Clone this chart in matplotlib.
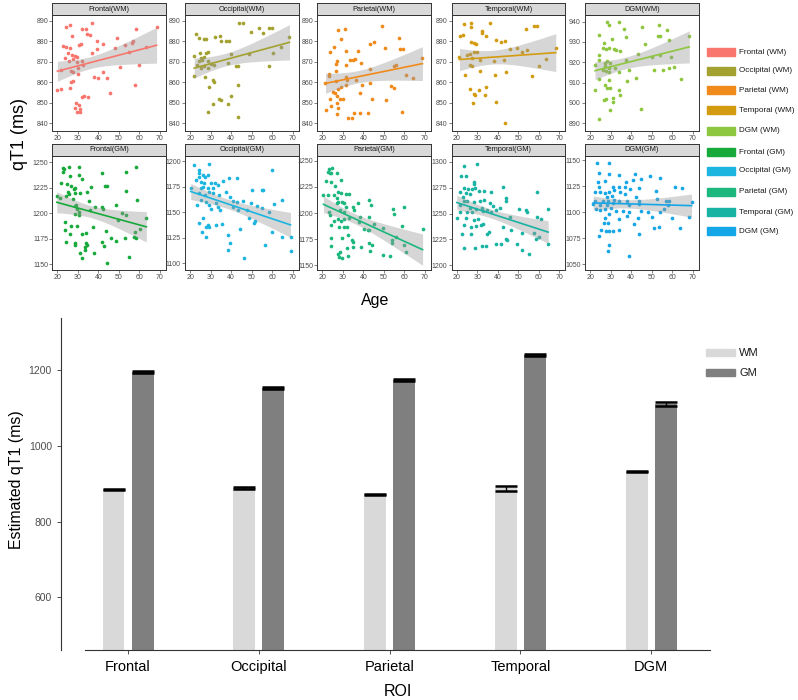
import numpy as np
import matplotlib
matplotlib.use('Agg')
import matplotlib.pyplot as plt
from matplotlib.patches import Rectangle

plt.rcParams['font.family'] = ['Liberation Sans', 'DejaVu Sans']

# ---------------- data: (age, qT1) pairs per region ----------------
frontal_wm = [(26.2, 888), (24.1, 887), (36.7, 888.7), (31.9, 885.8), (34.0, 886), (27.0, 882.7), (34.6, 883.5),
              (35.8, 883), (22.9, 877.7), (24.2, 877.4), (26.2, 876.6), (30.6, 878), (31.5, 878.7), (39.2, 880),
              (42.4, 878.5), (39.2, 876), (36.7, 874), (25.4, 874.2), (27.0, 873.4), (28.6, 872.6), (23.7, 871.8),
              (29.4, 872.3), (27.8, 871.3), (25.8, 870.2), (29.4, 869.8), (31.9, 870.2), (32.7, 868.5), (30.2, 867),
              (21.8, 866), (26.5, 865.3), (27.8, 864.8), (30.2, 864.2), (26.6, 860), (26.2, 857), (27.8, 860.5),
              (37.9, 862.6), (42.4, 864.8), (44.0, 862), (45.6, 854.8), (33.0, 853.2), (35.1, 852.9), (31.9, 852.9),
              (21.8, 856.5), (20.0, 856), (29.1, 850), (30.7, 848.7), (28.6, 847.3), (31.0, 846.8), (29.7, 845.5),
              (31.0, 845.2), (48.9, 881.5), (48.0, 876.6), (53.0, 878.2), (55.0, 874.5), (56.2, 879.3), (57.0, 880.3),
              (58.6, 885.8), (63.2, 877.4), (68.4, 886.8), (60.0, 868.5), (50.5, 867.3), (57.8, 858.4), (40.0, 862)]
occipital_wm = [(22.8, 883.5), (24.4, 881.5), (26.9, 881), (27.7, 881), (34.7, 882.6), (32.1, 882), (35.3, 880),
                (37.5, 880), (39.1, 880.3), (44, 888.7), (45.6, 889), (22, 872.6), (24.9, 874.2), (27.7, 874.2),
                (28.8, 874.5), (25.2, 871.8), (26.9, 872.3), (26, 871), (28.5, 870.2), (24.4, 870.2), (23.6, 868.5),
                (30.1, 868.9), (26.9, 868), (25.2, 867), (28.8, 867), (31.8, 868.5), (39.9, 873.9), (38.3, 869.4),
                (42.4, 867.7), (43.6, 867.7), (22, 863.2), (27.2, 862.6), (31.3, 861), (31.8, 860), (29.3, 857.7),
                (43.6, 858.4), (39.9, 853.2), (34.2, 851.6), (35.3, 851.1), (31.4, 849.5), (38.3, 849.2), (28.5, 845.5),
                (43.6, 843.2), (49.9, 884.4), (53.8, 886.3), (55.4, 884.2), (48.9, 873.7), (58.7, 886.3), (59.9, 886.3),
                (60.6, 874.2), (64.4, 877.4), (68.5, 882), (58.7, 867.7)]
parietal_wm = [(49, 887.4), (30.8, 885.8), (27.5, 885.5), (57.3, 881.5), (45.1, 879.8), (43.1, 878.7), (29.1, 881),
               (25.8, 877.1), (23.8, 874.7), (31.3, 875.3), (37.4, 875.3), (50.6, 876.6), (58, 876), (59.3, 876),
               (33.6, 870.6), (34.9, 871), (36.1, 871.3), (39, 869.4), (26.9, 870.2), (26.5, 868.9), (31.3, 868.5),
               (26.7, 865.6), (23.2, 864.2), (23.4, 863.2), (31.6, 862.6), (32, 861.3), (26.7, 860.5), (21.5, 859.7),
               (36.6, 861.3), (43.1, 859.7), (39.5, 858.4), (53.6, 858.1), (31.3, 858.4), (29.1, 857.7), (27.5, 856.5),
               (25.3, 855.2), (26.2, 854.5), (26.9, 853.2), (38.2, 854.8), (44.4, 851.9), (51, 851.1), (28.8, 851.9),
               (30.1, 851.6), (23.8, 851.9), (26.9, 849.7), (24, 848.4), (27.6, 847.6), (21.7, 846.5), (26.9, 844.4),
               (35.4, 844.7), (38.5, 844.7), (42.4, 844.7), (32.4, 842.4), (34.6, 842.4), (58.9, 845.5), (55.1, 857.3),
               (54.8, 868), (56.1, 868.5), (60.6, 863.7), (64.4, 862), (68.8, 871.8), (43.1, 866.5)]
temporal_wm = [(23.6, 888.4), (26.9, 889), (26.9, 886.8), (36.1, 889), (21.6, 882.6), (23, 883), (32.3, 885.2),
               (32.3, 884), (34, 882.6), (26.9, 879.4), (28.2, 879), (29.5, 878.5), (39.3, 880.6), (41.6, 879.4),
               (43.3, 880), (21.3, 872.3), (24.9, 873.4), (26.2, 873.9), (28.2, 874.5), (29.8, 874.5), (27.4, 871.8),
               (26.6, 868.5), (27.4, 867.7), (31.5, 871), (38.2, 870.2), (43.1, 871), (46.1, 876.1), (49.3, 876.6),
               (23.8, 863.7), (31.1, 865.3), (38.4, 863.7), (43.8, 864.8), (34.4, 857.7), (26.6, 856.5), (30.8, 856.1),
               (28.2, 854.4), (29, 853.5), (33.6, 853.5), (38.9, 850.3), (27.9, 849.7), (43.6, 840.3), (52, 874.5),
               (54.4, 875.5), (53.6, 885.8), (57.7, 887.4), (59, 887.4), (56.9, 863.2), (60.1, 868), (63.4, 871.3),
               (68.3, 876.6)]
dgm_wm = [(28.3, 939.7), (29.1, 938.4), (34, 939.7), (24.5, 933.5), (36.3, 936.3), (45.2, 937.3), (53.8, 938.4),
          (57.3, 935.9), (30.6, 931.5), (37.6, 932.3), (27, 929.7), (26.2, 927), (27.8, 926.5), (29.4, 927),
          (31.5, 926.5), (32.6, 926.2), (34.7, 925.4), (46.8, 928.9), (53, 932.8), (54.3, 932.8), (58.3, 930.9),
          (24.2, 923.7), (24.1, 921.3), (43.2, 924), (50.2, 922.4), (54.3, 923.6), (59.4, 922.7), (22.4, 918.8),
          (27.3, 919.7), (28.3, 920.6), (29.9, 919.7), (37.3, 921.3), (27.5, 918), (29.4, 917.4), (26.2, 916.4),
          (27.8, 915.5), (29.4, 915), (32.3, 917.2), (39.2, 916), (34.3, 915), (51.4, 916), (55.4, 916),
          (58.6, 917.2), (60.7, 917.7), (24.5, 911.9), (29, 911.4), (42.4, 912.3), (38, 910.6), (64.3, 911.9),
          (27.5, 909), (28.3, 907.3), (29.9, 907.3), (22.6, 906.2), (34.3, 906.2), (34.6, 904.1), (31.4, 902.2),
          (31.4, 900.2), (27, 901.4), (27.8, 901.9), (29.9, 896.5), (44.6, 897), (24.2, 892.3), (68.4, 932.8)]
frontal_gm = [(22.5, 1244.1), (23.4, 1243.1), (22.9, 1240.8), (25.7, 1245.1), (26.2, 1236), (30.7, 1237), (30.3, 1244.8),
              (32, 1233.3), (41.8, 1239.2), (53.3, 1239.9), (58.5, 1244.8), (21.8, 1229.4), (24.6, 1228.8), (26.7, 1226.8),
              (28.7, 1224.5), (27.9, 1223.5), (36.6, 1225.2), (43.1, 1227.1), (44.3, 1226.8), (28.7, 1219.6),
              (31.1, 1220.3), (34.4, 1221.2), (25.4, 1221.2), (25.7, 1218.6), (19.7, 1217.3), (21.3, 1214.7),
              (24.1, 1216.9), (27.4, 1213.7), (35.6, 1212.4), (53.6, 1222.2), (59, 1213.1), (29, 1208.5), (48.4, 1208.5),
              (38.5, 1206.2), (41.8, 1206.2), (42.1, 1204.6), (28.4, 1206.9), (29.8, 1204.6), (30.3, 1201), (28.4, 1199.7),
              (36.1, 1203.6), (30.3, 1198.7), (51.5, 1200), (53.4, 1198.4), (49.7, 1193.5), (63.4, 1195.1), (23.8, 1191.8),
              (29.5, 1187.9), (26.7, 1187.2), (37.4, 1186.3), (23.8, 1183.7), (26.2, 1179.7), (31.8, 1179.4), (34, 1180.4),
              (43.8, 1183), (57.9, 1182), (60.3, 1184.6), (24.3, 1171.6), (28.7, 1170.6), (28.7, 1169), (34, 1170.6),
              (34.4, 1169), (33.3, 1167.3), (41.8, 1172.2), (42.8, 1167.9), (46.2, 1175.4), (48.7, 1173.2), (53, 1175.4),
              (57.4, 1176.3), (58.2, 1175.7), (31.1, 1161.4), (37.7, 1161.4), (32, 1155.9), (44.3, 1151), (55, 1157.5),
              (33.3, 1164)]
occipital_gm = [(22, 1196.1), (29.4, 1196.7), (24.1, 1191.2), (24.4, 1188), (24.4, 1184.7), (26.1, 1186.3), (27.4, 1184.7),
                (28.6, 1186.3), (23.1, 1181.4), (25.2, 1179.8), (26.7, 1178.8), (30, 1178.8), (31.9, 1178.2), (36, 1180.5),
                (39, 1183.7), (42.9, 1183.7), (20.3, 1173.3), (25.3, 1173.3), (26.4, 1174.3), (28.6, 1173.3), (31.4, 1173.9),
                (33.6, 1176.5), (37.7, 1170), (29.1, 1170), (24.4, 1168.4), (27.4, 1166.8), (31, 1168.4), (34.3, 1166.8),
                (39.3, 1165.1), (41, 1161.2), (43, 1160.3), (45.9, 1161.2), (50, 1171.7), (55, 1171.7), (25.3, 1161.9),
                (27.7, 1160.3), (29.4, 1157), (32.6, 1158.6), (33.6, 1154.7), (30.3, 1152.8), (34.7, 1152.1), (23.6, 1157),
                (41, 1155.4), (43.5, 1152.1), (47.6, 1152.1), (49.6, 1158.6), (52.6, 1156), (24.1, 1139.1), (26.1, 1144.6),
                (28.6, 1137.5), (27.7, 1135.8), (29.1, 1135.8), (32.4, 1137.5), (35.6, 1138.4), (44.2, 1133.6), (48.8, 1144),
                (51.6, 1141.7), (51.1, 1139.8), (38.4, 1127.7), (25.9, 1130.9), (27.7, 1126.1), (39.3, 1119.5), (38.4, 1113),
                (46.1, 1104.9), (56.6, 1118), (60, 1191.2), (55.8, 1171.7), (55, 1153.7), (58.3, 1150.5), (60.7, 1158),
                (64.9, 1161.9), (60, 1131), (64.9, 1126), (69, 1112.4), (69, 1126)]
parietal_gm = [(23.3, 1241.7), (24.6, 1242.7), (22.5, 1239.5), (23.6, 1237.9), (24.1, 1238.5), (26.9, 1238.5), (29, 1231.5),
               (21.6, 1230.8), (24.1, 1229.9), (26.2, 1225.7), (20.5, 1217.1), (22.5, 1217.1), (25.7, 1217.1), (27.4, 1220.3),
               (29, 1219.3), (31.5, 1217.7), (32.8, 1217.7), (26.9, 1213.9), (27.7, 1210.7), (26.9, 1209.1), (29.8, 1210.7),
               (30.7, 1209.1), (37.2, 1209.7), (42.9, 1212.3), (43.8, 1207.5), (31.5, 1205.3), (34.9, 1205.3), (28.5, 1202.7),
               (30.7, 1201.1), (35.6, 1202.7), (54.4, 1203.4), (54.8, 1199.5), (59.7, 1205.3), (23.3, 1201.1), (23.6, 1197.9),
               (27.4, 1193.8), (29, 1192.5), (25.7, 1192.5), (30.7, 1193.8), (32.8, 1195.7), (38.5, 1196.3), (42.9, 1196.3),
               (37.7, 1191.5), (45.4, 1189.3), (24.1, 1188.3), (28.2, 1186.7), (30.7, 1186.7), (31.8, 1186.7), (40.5, 1184.5),
               (42.1, 1184.2), (42.9, 1184.2), (49.5, 1185.8), (58.9, 1187.7), (68.9, 1184.5), (29.5, 1176.4), (32.3, 1178.8),
               (24.1, 1175.7), (34.4, 1174.1), (34.9, 1172.5), (42.9, 1170.9), (44.4, 1169.3), (54, 1174.6), (55.7, 1177.2),
               (24.1, 1168.4), (31.8, 1166.1), (34.8, 1167.7), (38.9, 1167.1), (43, 1163.9), (59.8, 1169.3), (54, 1170.9),
               (27.4, 1161), (28.5, 1162.9), (28.2, 1157.5), (29.5, 1157), (32.3, 1159.3), (49.5, 1160), (53.1, 1158.5),
               (60.8, 1162.5)]
temporal_gm = [(23.3, 1296.1), (29.8, 1297.7), (22, 1286.5), (24.6, 1286.5), (28.2, 1280.6), (28.5, 1278.1), (23.6, 1274.2),
               (25.7, 1273.2), (27.4, 1273.2), (29, 1274.2), (30.7, 1271.9), (21.6, 1271), (24.6, 1269.4), (26.6, 1268.7),
               (33.1, 1271.6), (36.9, 1271), (42.6, 1275.8), (23, 1266.1), (23.6, 1262.3), (25.2, 1262.3), (28.2, 1261.3),
               (31.5, 1261.9), (33.4, 1262.9), (36.4, 1260.3), (43.8, 1264.5), (43.8, 1262.3), (21.6, 1258.1), (26.2, 1255.8),
               (29.5, 1254.8), (32.3, 1255.8), (37.5, 1257.1), (38.9, 1253.2), (41.3, 1255.8), (21.6, 1251.6), (25.2, 1251.6),
               (27.4, 1251.6), (32.8, 1252.6), (34.8, 1253.2), (36.9, 1251.6), (45.9, 1246.8), (50.3, 1254.8), (53.6, 1253.2),
               (24.6, 1246.1), (20, 1246), (28.2, 1243.5), (30.2, 1245.2), (32.8, 1240.3), (23.6, 1238.7), (26.9, 1237.1),
               (29.5, 1237.7), (31.8, 1238.7), (35.6, 1232.3), (34.8, 1230.6), (42.6, 1237.1), (46.6, 1233.9), (43.8, 1225.8),
               (44.6, 1224.2), (41.6, 1221), (22.5, 1230.6), (26.9, 1230), (23.6, 1217.1), (29, 1217.1), (32.3, 1218.4),
               (34.4, 1218.4), (38.9, 1220.3), (49.5, 1220.3), (51.9, 1215.2), (54.4, 1251.6), (59, 1271), (59.3, 1246.8),
               (61, 1245.2), (64.6, 1254.8), (57.7, 1231.3), (58.5, 1225.8), (60.1, 1227.4), (64.4, 1221), (52, 1231.3),
               (55.2, 1211.3)]
dgm_gm = [(23.3, 1146.8), (29.3, 1146.8), (24.1, 1137.7), (33.9, 1136), (42.1, 1137), (29, 1137), (23.8, 1129.5),
          (27.4, 1129.9), (37.5, 1128.9), (40.8, 1130.5), (44.9, 1132.1), (49.3, 1134.4), (53.9, 1133.1), (24.3, 1124.7),
          (31.3, 1124), (33.9, 1124.7), (37.2, 1124.7), (39.5, 1122.4), (44.1, 1123.4), (61.3, 1124), (64.9, 1123.4),
          (22.5, 1119.8), (24.9, 1119.2), (27.4, 1118.2), (29.3, 1119.2), (31.5, 1121.4), (34.8, 1119.2), (37.2, 1117.5),
          (52, 1120.8), (28, 1114.3), (30.7, 1115.3), (42.5, 1115), (52.6, 1112.7), (22.5, 1111), (26.1, 1110.4),
          (28.5, 1111), (31.8, 1111.7), (34.3, 1110.4), (38, 1110.4), (43.8, 1111), (56.9, 1110.4), (58.4, 1111),
          (21.5, 1107.8), (24.9, 1107.1), (28, 1107.1), (31, 1108.4), (39.2, 1107.1), (43.8, 1107.8), (58, 1107.1),
          (69.5, 1109.4), (22.8, 1102.9), (24.9, 1101.9), (27.4, 1102.9), (30.2, 1104.5), (32.7, 1101.3), (36, 1101.3),
          (39.2, 1100.6), (44.9, 1101.3), (48.2, 1100.6), (53.9, 1100.6), (55.9, 1102.9), (29, 1098), (27.4, 1094.2),
          (37.9, 1096.4), (43.3, 1094.2), (50.3, 1095.5), (60.2, 1094.2), (68.4, 1095.5), (33.9, 1093.2), (26.9, 1089.9),
          (28.5, 1089.9), (41.6, 1088.9), (33.9, 1083.1), (25.2, 1083.1), (27.7, 1081.8), (29, 1081.8), (31, 1082.4),
          (51.1, 1084.4), (53.4, 1085.7), (64.1, 1085), (24.1, 1077), (43.8, 1079.2), (29, 1068.8), (28.5, 1062.3),
          (39.2, 1057.5)]

panel_titles = ['Frontal(WM)', 'Occipital(WM)', 'Parietal(WM)', 'Temporal(WM)', 'DGM(WM)',
                'Frontal(GM)', 'Occipital(GM)', 'Parietal(GM)', 'Temporal(GM)', 'DGM(GM)']
legend_labels = ['Frontal (WM)', 'Occipital (WM)', 'Parietal (WM)', 'Temporal (WM)', 'DGM (WM)',
                 'Frontal (GM)', 'Occipital (GM)', 'Parietal (GM)', 'Temporal (GM)', 'DGM (GM)']
panel_data = [frontal_wm, occipital_wm, parietal_wm, temporal_wm, dgm_wm,
              frontal_gm, occipital_gm, parietal_gm, temporal_gm, dgm_gm]
colors = ['#F8766D', '#A3A130', '#F08A1A', '#D39B10', '#8DC63F',
          '#17A93A', '#1CB5E0', '#1BB77C', '#19B3A4', '#15A6E8']

# bar chart data
rois = ['Frontal', 'Occipital', 'Parietal', 'Temporal', 'DGM']
wm_est = [885.6, 889.0, 871.6, 887.5, 931.0]
gm_est = [1194.0, 1153.0, 1173.6, 1239.6, 1110.0]
wm_err = [1.5, 2.0, 2.0, 7.0, 1.5]
gm_err = [3.0, 2.5, 2.5, 2.5, 5.0]

# ---------------- layout ----------------
W, H = 798, 700
fig = plt.figure(figsize=(W / 100, H / 100), dpi=100)


def add_ax(l, t, w, h):
    return fig.add_axes([l / W, 1 - (t + h) / H, w / W, h / H])


col_left = [52.3, 185, 317.3, 451.7, 585]
panel_w = 113.7
rows = [(3.3, 11.7, 15, 115.7), (143.5, 12.5, 156, 113.5)]
ylims = [(836.3, 892.8), (836.3, 892.8), (836.3, 892.8), (836.3, 892.8), (886.3, 943.3),
         (1145, 1256), (1094, 1205), (1146, 1254.5), (1196, 1305.5), (1045, 1154)]
yticks = [np.arange(840, 891, 10)] * 4 + [np.arange(890, 941, 10)] + \
         [np.arange(1150, 1251, 25), np.arange(1100, 1201, 25), np.arange(1150, 1251, 25),
          np.arange(1200, 1301, 25), np.arange(1050, 1151, 25)]
edge = '#333333'


def fit_ci(x, y):
    x = np.asarray(x, float)
    y = np.asarray(y, float)
    n = len(x)
    b, a = np.polyfit(x, y, 1)
    xs = np.linspace(x.min(), x.max(), 80)
    yh = a + b * xs
    resid = y - (a + b * x)
    s = np.sqrt(np.sum(resid ** 2) / (n - 2))
    sxx = np.sum((x - x.mean()) ** 2)
    se = s * np.sqrt(1.0 / n + (xs - x.mean()) ** 2 / sxx)
    return xs, yh, 1.98 * se


for i, (title, data, col) in enumerate(zip(panel_titles, panel_data, colors)):
    r, c = divmod(i, 5)
    st_top, st_h, p_top, p_h = rows[r]
    ax = add_ax(col_left[c], p_top, panel_w, p_h)
    arr = np.array(data, float)
    ax.scatter(arr[:, 0], arr[:, 1], s=7, color=col, linewidths=0, zorder=2)
    xs, yh, ci = fit_ci(arr[:, 0], arr[:, 1])
    ax.fill_between(xs, yh - ci, yh + ci, color='#999999', alpha=0.4, linewidth=0, zorder=3)
    ax.plot(xs, yh, color=col, lw=1.2, zorder=4)
    ax.set_xlim(17.5, 73)
    ax.set_ylim(*ylims[i])
    ax.set_xticks([20, 30, 40, 50, 60, 70])
    ax.set_yticks(yticks[i])
    ax.tick_params(labelsize=5, colors='#4d4d4d', length=2, width=0.5, pad=1)
    for sp in ax.spines.values():
        sp.set_color(edge)
        sp.set_linewidth(0.7)
    sax = add_ax(col_left[c], st_top, panel_w, st_h)
    sax.set_facecolor('#d9d9d9')
    sax.set_xticks([])
    sax.set_yticks([])
    for sp in sax.spines.values():
        sp.set_color(edge)
        sp.set_linewidth(0.7)
    sax.text(0.5, 0.5, title, ha='center', va='center', fontsize=5.3, color='#1a1a1a',
             transform=sax.transAxes)

# top legend
leg_y = [52, 71, 90, 110, 131, 152, 171, 192, 212, 231]
for lab, col, yc in zip(legend_labels, colors, leg_y):
    fig.patches.append(Rectangle((707 / W, 1 - (yc + 4) / H), 28 / W, 8 / H, color=col,
                                 transform=fig.transFigure, figure=fig))
    fig.text(739 / W, 1 - yc / H, lab, fontsize=5.9, va='center', ha='left', color='#1a1a1a')

fig.text(19 / W, 1 - 134 / H, 'qT1 (ms)', rotation=90, fontsize=13, ha='center', va='center')
fig.text(375.5 / W, 1 - 300 / H, 'Age', fontsize=11.5, ha='center', va='center')

# ---------------- bar chart ----------------
axb = add_ax(85, 318, 625, 332)
x = np.arange(len(rois))
bw = 0.168
off = 0.111
axb.bar(x - off, wm_est, bw, color='#d9d9d9', zorder=1)
axb.bar(x + off, gm_est, bw, color='#7f7f7f', zorder=1)
axb.errorbar(x - off, wm_est, yerr=wm_err, fmt='none', ecolor='black', elinewidth=1,
             capsize=7.9, capthick=1.8, zorder=2)
axb.errorbar(x + off, gm_est, yerr=gm_err, fmt='none', ecolor='black', elinewidth=1,
             capsize=7.9, capthick=1.8, zorder=2)
axb.set_xlim(-0.329, 4.45)
axb.set_ylim(461, 1337)
axb.set_xticks(x)
axb.set_xticklabels(rois)
axb.set_yticks([600, 800, 1000, 1200])
axb.spines['top'].set_visible(False)
axb.spines['right'].set_visible(False)
axb.spines['left'].set_position(('outward', 17.3))
for s in ('left', 'bottom'):
    axb.spines[s].set_color('#333333')
    axb.spines[s].set_linewidth(0.8)
axb.tick_params(axis='y', labelsize=7.5, labelcolor='#4d4d4d', color='#333333', length=3, width=0.6)
axb.tick_params(axis='x', labelsize=10.5, labelcolor='black', color='#333333', length=3, width=0.6, pad=4)

fig.text(16.5 / W, 1 - 480 / H, 'Estimated qT1 (ms)', rotation=90, fontsize=11.4, ha='center', va='center')
fig.text(397.5 / W, 1 - 691 / H, 'ROI', fontsize=11.5, ha='center', va='center')

for lab, col, yc in zip(['WM', 'GM'], ['#d9d9d9', '#7f7f7f'], [352.5, 372.5]):
    fig.patches.append(Rectangle((706 / W, 1 - (yc + 3.5) / H), 29 / W, 7 / H, color=col,
                                 transform=fig.transFigure, figure=fig))
    fig.text(739 / W, 1 - yc / H, lab, fontsize=8, va='center', ha='left', color='#1a1a1a')

fig.savefig('out.png', dpi=100)
